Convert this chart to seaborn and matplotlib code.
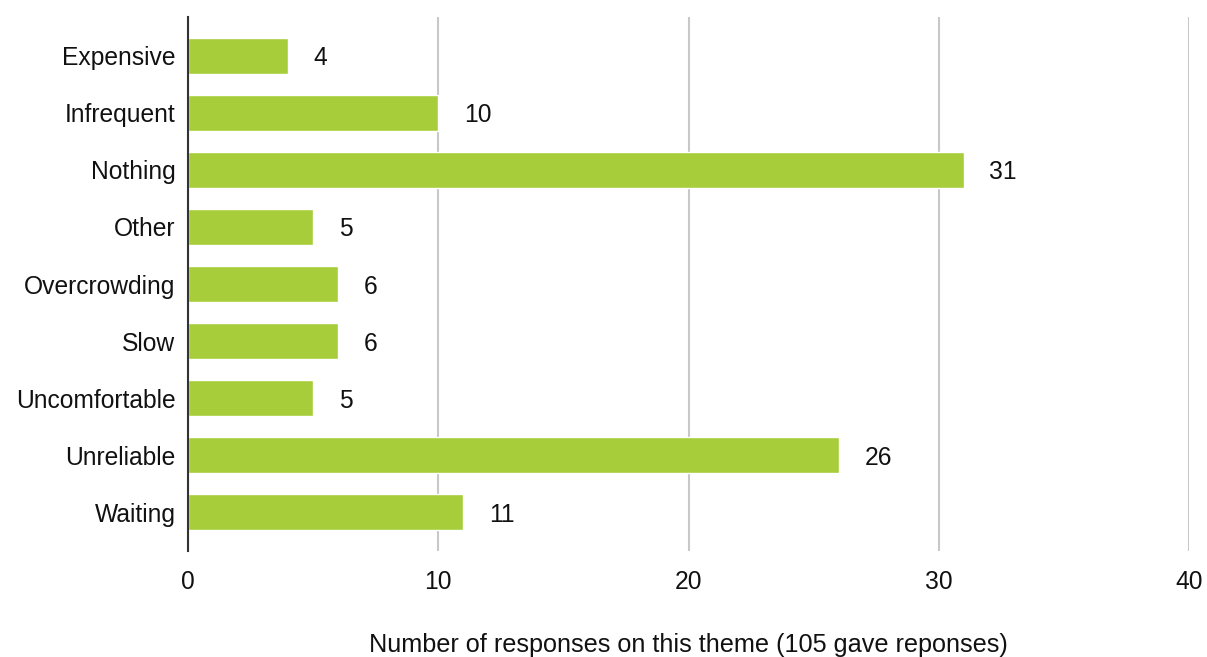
import matplotlib
matplotlib.use("Agg")
import matplotlib.pyplot as plt
import seaborn as sns
import pandas as pd

categories = ["Expensive", "Infrequent", "Nothing", "Other", "Overcrowding",
              "Slow", "Uncomfortable", "Unreliable", "Waiting"]
counts = [4, 10, 31, 5, 6, 6, 5, 26, 11]
x_ticks = [0, 10, 20, 30, 40]
x_label = "Number of responses on this theme (105 gave reponses)"

sns.set_theme(style="white")
plt.rcParams['font.family'] = ['Liberation Sans', 'DejaVu Sans']

df = pd.DataFrame({"theme": categories, "count": counts})

fig = plt.figure(figsize=(12.07, 6.57), dpi=100)
ax = fig.add_axes([188/1207, 1-551/657, (1189-188)/1207, (551-17)/657])

sns.barplot(data=df, x="count", y="theme", orient="h", color="#A7CE3A",
            saturation=1, width=0.64, ax=ax, zorder=3)

for i, v in enumerate(counts):
    ax.annotate(str(v), xy=(v, i), xytext=(18.5, 0), textcoords="offset points",
                ha="left", va="center_baseline", fontsize=17.7, color="#111111")

ax.set_xlim(0, 40)
ax.set_ylim(8.68, -0.68)
ax.set_xticks(x_ticks)
ax.xaxis.grid(True, color="#c8c8c8", linewidth=1.5, zorder=0)
ax.yaxis.grid(False)
for s in ["top", "right", "bottom"]:
    ax.spines[s].set_visible(False)
ax.spines["left"].set_color("#333333")
ax.spines["left"].set_linewidth(1.5)
ax.spines["left"].set_zorder(5)
ax.tick_params(axis="x", length=0, pad=14, labelsize=17.7, labelcolor="#111111")
ax.tick_params(axis="y", length=0, pad=9, labelsize=17.7, labelcolor="#111111")
ax.set_ylabel("")
ax.set_xlabel(x_label, fontsize=18.2, color="#111111", labelpad=28)

fig.savefig("out.png", dpi=100)
